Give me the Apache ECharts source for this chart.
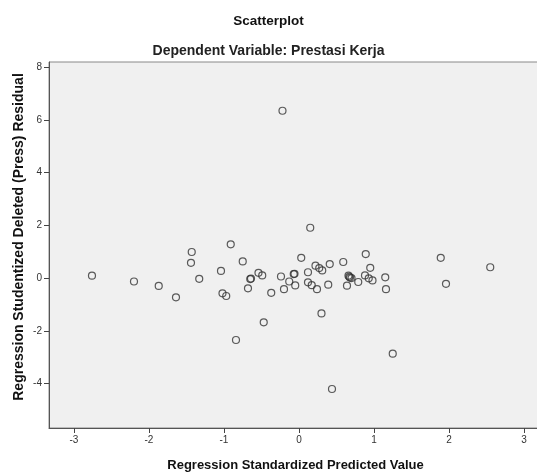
<!DOCTYPE html>
<html>
<head>
<meta charset="utf-8">
<title>Scatterplot</title>
<script src="https://cdn.jsdelivr.net/npm/echarts@6/dist/echarts.min.js"></script>
<style>
  html, body { margin: 0; padding: 0; background: #fff; }
  #main { width: 537px; height: 472px; }
</style>
</head>
<body>
<div id="main"></div>
<script>
// predicted value (x) and studentized deleted residual (y)
var predicted = [
	-2.76, -2.20, -1.87, -1.64, -1.43, -1.44, -1.33, -0.91, -1.04, -0.75,
	-1.02, -0.97, -0.84, -0.68, -0.65, -0.64, -0.54, -0.49, -0.47, -0.37,
	-0.24, -0.20, -0.13, -0.07, -0.06, -0.05, 0.03, -0.22, 0.15, 0.12,
	0.12, 0.17, 0.24, 0.22, 0.27, 0.31, 0.41, 0.39, 0.30, 0.44,
	0.59, 0.64, 0.66, 0.67, 0.68, 0.70, 0.79, 0.89, 0.95, 0.88,
	0.93, 0.98, 1.15, 1.16, 1.25, 1.89, 1.96, 2.55
];
var residual = [
	0.09, -0.13, -0.30, -0.73, 0.99, 0.58, -0.03, 1.28, 0.27, 0.63,
	-0.58, -0.68, -2.35, -0.39, -0.04, -0.02, 0.20, 0.10, -1.68, -0.56,
	0.06, -0.42, -0.13, 0.15, 0.16, -0.28, 0.77, 6.35, 1.91, 0.22,
	-0.16, -0.27, -0.42, 0.47, 0.38, 0.29, 0.53, -0.25, -1.34, -4.21,
	0.61, -0.29, 0.09, 0.05, 0.02, 0.00, -0.15, 0.91, 0.39, 0.10,
	-0.01, -0.09, 0.03, -0.42, -2.87, 0.77, -0.22, 0.41
];

// tick labels
var xTicks = [-3, -2, -1, 0, 1, 2, 3];
var yTicks = [-4, -2, 0, 2, 4, 6, 8];

var points = [];
for (var i = 0; i < predicted.length; i++) {
	points.push([predicted[i], residual[i]]);
}

var myChart = echarts.init(document.getElementById("main"));

var fontName = "Liberation Sans, Arial, sans-serif";

option = {
	animation: false,
	title: [
		{
			text: "Scatterplot",
			left: "center",
			top: 9,
			textStyle: { fontFamily: fontName, fontSize: 13.5, fontWeight: "bold", color: "#111" }
		},
		{
			text: "Dependent Variable: Prestasi Kerja",
			left: "center",
			top: 39,
			textStyle: { fontFamily: fontName, fontSize: 14, fontWeight: "bold", color: "#222" }
		}
	],
	grid: {
		left: 49,
		right: -5,
		top: 62,
		bottom: 44,
		outerBoundsMode: "none",
		show: true,
		backgroundColor: "#f0f0f0",
		borderColor: "#888",
		borderWidth: 1
	},
	xAxis: {
		type: "value",
		min: -3.333,
		max: 3.24,
		name: "Regression Standardized Predicted Value",
		nameLocation: "middle",
		nameGap: 31,
		nameMoveOverlap: false,
		nameTextStyle: { fontFamily: fontName, fontSize: 13, fontWeight: "bold", color: "#111" },
		splitLine: { show: false },
		axisLine: { show: true, onZero: false, lineStyle: { color: "#555", width: 1 } },
		axisTick: { show: true, length: 5, customValues: xTicks, lineStyle: { color: "#444" } },
		axisLabel: { customValues: xTicks, margin: 7, fontFamily: fontName, fontSize: 10, color: "#333" }
	},
	yAxis: {
		type: "value",
		min: -5.69,
		max: 8.2,
		name: "Regression Studentized Deleted (Press) Residual",
		nameLocation: "middle",
		nameGap: 23,
		nameMoveOverlap: false,
		nameTextStyle: { fontFamily: fontName, fontSize: 14, fontWeight: "bold", color: "#111", padding: [0, 0, 0, 16] },
		splitLine: { show: false },
		axisLine: { show: true, onZero: false, lineStyle: { color: "#555", width: 1 } },
		axisTick: { show: true, length: 5, customValues: yTicks, lineStyle: { color: "#444" } },
		axisLabel: { customValues: yTicks, margin: 7, fontFamily: fontName, fontSize: 10, color: "#333" }
	},
	series: [
		{
			type: "scatter",
			symbol: "circle",
			symbolSize: 7,
			data: points,
			itemStyle: { color: "rgba(0,0,0,0)", borderColor: "#333", borderWidth: 1.2 },
			emphasis: { disabled: true }
		}
	]
};

myChart.setOption(option);
</script>
</body>
</html>
